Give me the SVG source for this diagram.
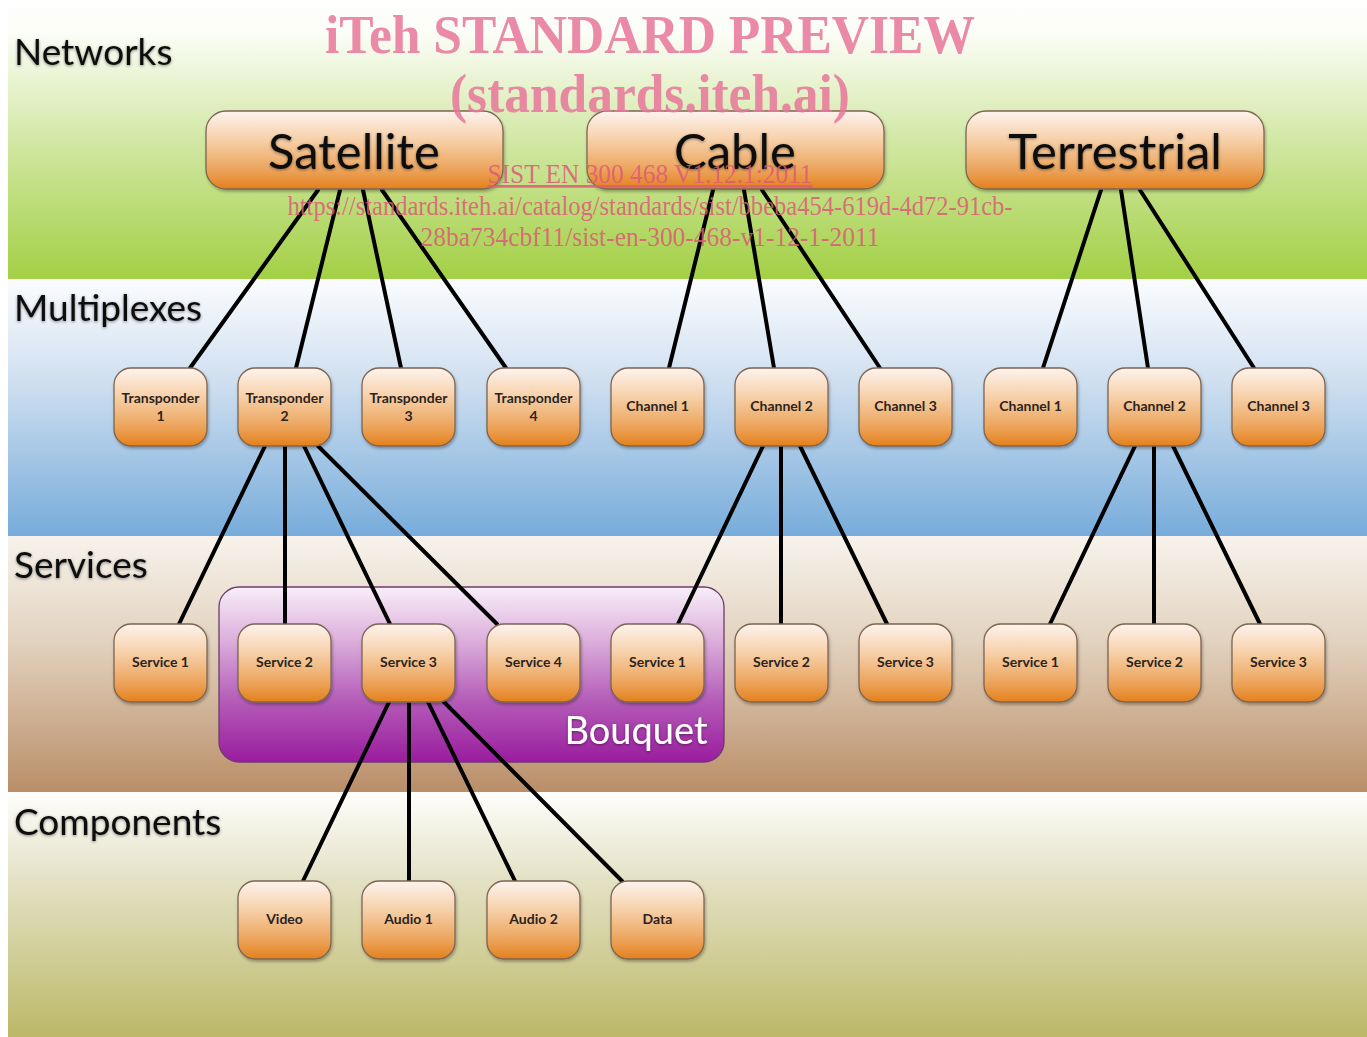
<svg xmlns="http://www.w3.org/2000/svg" width="1367" height="1037" viewBox="0 0 1367 1037">
<defs>
<linearGradient id="gNet" x1="0" y1="0" x2="0" y2="1">
<stop offset="0" stop-color="#ffffff"/><stop offset="0.12" stop-color="#fbfdf6"/><stop offset="0.55" stop-color="#cde59b"/><stop offset="1" stop-color="#a3d045"/>
</linearGradient>
<linearGradient id="gMux" x1="0" y1="0" x2="0" y2="1">
<stop offset="0" stop-color="#fbfcfe"/><stop offset="0.4" stop-color="#cfdff0"/><stop offset="1" stop-color="#77acdb"/>
</linearGradient>
<linearGradient id="gSvc" x1="0" y1="0" x2="0" y2="1">
<stop offset="0" stop-color="#f7f3ec"/><stop offset="0.4" stop-color="#e3d3c0"/><stop offset="1" stop-color="#b98e68"/>
</linearGradient>
<linearGradient id="gCmp" x1="0" y1="0" x2="0" y2="1">
<stop offset="0" stop-color="#fefefc"/><stop offset="0.35" stop-color="#e4e2c6"/><stop offset="1" stop-color="#bcb867"/>
</linearGradient>
<linearGradient id="gNode" x1="0" y1="0" x2="0" y2="1">
<stop offset="0" stop-color="#fdf3ee"/><stop offset="0.35" stop-color="#f7d2ac"/><stop offset="0.75" stop-color="#eca45c"/><stop offset="1" stop-color="#e4801c"/>
</linearGradient>
<linearGradient id="gBq" x1="0" y1="0" x2="0" y2="1">
<stop offset="0" stop-color="#f8eef8"/><stop offset="0.3" stop-color="#dcb0dc"/><stop offset="0.65" stop-color="#b45cb8"/><stop offset="1" stop-color="#9a1c9e"/>
</linearGradient>
<filter id="tglow" x="-10%" y="-30%" width="120%" height="160%">
<feDropShadow dx="0" dy="1" stdDeviation="1.6" flood-color="#000" flood-opacity="0.45"/>
</filter>
<filter id="nshadow" x="-10%" y="-10%" width="125%" height="130%">
<feDropShadow dx="1" dy="2" stdDeviation="1.5" flood-color="#000" flood-opacity="0.3"/>
</filter>
</defs>
<style>
.band-label{font-family:Lato,"Open Sans",sans-serif;font-size:37px;fill:#111;}
.big{font-family:Lato,"Open Sans",sans-serif;font-size:49px;fill:#111;text-anchor:middle;}
.sm{font-family:Lato,"Open Sans",sans-serif;font-size:14px;font-weight:bold;fill:#2a2420;text-anchor:middle;}
.node{fill:url(#gNode);stroke:#7d6552;stroke-width:1.3;}
.conn line{stroke:#000;stroke-width:4;stroke-linecap:round;}
.wm1{font-family:"Liberation Serif",serif;font-weight:bold;font-size:54px;fill:#e8769a;fill-opacity:0.85;text-anchor:middle;}
.wm2{font-family:"Liberation Serif",serif;font-size:27px;fill:#dd5a78;fill-opacity:0.85;text-anchor:middle;}
</style>
<rect x="0" y="0" width="1367" height="1037" fill="#ffffff"/>
<rect x="8" y="0" width="1359" height="279" fill="url(#gNet)"/>
<rect x="8" y="279" width="1359" height="257" fill="url(#gMux)"/>
<rect x="8" y="536" width="1359" height="256" fill="url(#gSvc)"/>
<rect x="8" y="792" width="1359" height="245" fill="url(#gCmp)"/>
<g id="band-labels" filter="url(#tglow)">
<text class="band-label" x="14" y="65">Networks</text>
<text class="band-label" x="14" y="321">Multiplexes</text>
<text class="band-label" x="14" y="578">Services</text>
<text class="band-label" x="14" y="835">Components</text>
</g>
<g id="bouquet">
<rect x="219" y="587" width="505" height="175" rx="20" fill="url(#gBq)" stroke="#6d3a6d" stroke-width="1.3"/>
<text x="636" y="744" font-family="Lato,'Open Sans',sans-serif" font-size="38" fill="#ffffff" text-anchor="middle" filter="url(#tglow)">Bouquet</text>
</g>
<g id="connectors" class="conn">
<line x1="318" y1="190" x2="190" y2="368"/>
<line x1="340" y1="190" x2="296" y2="368"/>
<line x1="363" y1="190" x2="401" y2="368"/>
<line x1="382" y1="190" x2="506" y2="368"/>
<line x1="713" y1="190" x2="669" y2="368"/>
<line x1="744" y1="190" x2="774" y2="368"/>
<line x1="762" y1="190" x2="880" y2="368"/>
<line x1="1101" y1="190" x2="1043" y2="368"/>
<line x1="1121" y1="190" x2="1148" y2="368"/>
<line x1="1140" y1="190" x2="1254" y2="368"/>
<line x1="265" y1="446" x2="179" y2="624"/>
<line x1="285" y1="446" x2="285" y2="624"/>
<line x1="304" y1="446" x2="390" y2="624"/>
<line x1="318" y1="446" x2="497" y2="624"/>
<line x1="763" y1="446" x2="678" y2="624"/>
<line x1="781" y1="446" x2="781" y2="624"/>
<line x1="800" y1="446" x2="887" y2="624"/>
<line x1="1135" y1="446" x2="1050" y2="624"/>
<line x1="1154" y1="446" x2="1154" y2="624"/>
<line x1="1173" y1="446" x2="1260" y2="624"/>
<line x1="389" y1="702" x2="303" y2="881"/>
<line x1="409" y1="702" x2="409" y2="881"/>
<line x1="428" y1="702" x2="515" y2="881"/>
<line x1="444" y1="702" x2="622" y2="881"/>
</g>
<g id="n-satellite"><rect class="node" x="206" y="111" width="297" height="78" rx="20" filter="url(#nshadow)"/><text class="big" x="354" y="169" filter="url(#tglow)">Satellite</text></g>
<g id="n-cable"><rect class="node" x="587" y="111" width="297" height="78" rx="20" filter="url(#nshadow)"/><text class="big" x="735" y="169" filter="url(#tglow)">Cable</text></g>
<g id="n-terrestrial"><rect class="node" x="966" y="111" width="298" height="78" rx="20" filter="url(#nshadow)"/><text class="big" x="1115" y="169" filter="url(#tglow)">Terrestrial</text></g>
<g id="n-tp1"><rect class="node" x="114" y="368" width="93" height="78" rx="17" filter="url(#nshadow)"/><text class="sm" x="160.5" y="403">Transponder</text><text class="sm" x="160.5" y="421">1</text></g>
<g id="n-tp2"><rect class="node" x="238" y="368" width="93" height="78" rx="17" filter="url(#nshadow)"/><text class="sm" x="284.5" y="403">Transponder</text><text class="sm" x="284.5" y="421">2</text></g>
<g id="n-tp3"><rect class="node" x="362" y="368" width="93" height="78" rx="17" filter="url(#nshadow)"/><text class="sm" x="408.5" y="403">Transponder</text><text class="sm" x="408.5" y="421">3</text></g>
<g id="n-tp4"><rect class="node" x="487" y="368" width="93" height="78" rx="17" filter="url(#nshadow)"/><text class="sm" x="533.5" y="403">Transponder</text><text class="sm" x="533.5" y="421">4</text></g>
<g id="n-cch1"><rect class="node" x="611" y="368" width="93" height="78" rx="17" filter="url(#nshadow)"/><text class="sm" x="657.5" y="411">Channel 1</text></g>
<g id="n-cch2"><rect class="node" x="735" y="368" width="93" height="78" rx="17" filter="url(#nshadow)"/><text class="sm" x="781.5" y="411">Channel 2</text></g>
<g id="n-cch3"><rect class="node" x="859" y="368" width="93" height="78" rx="17" filter="url(#nshadow)"/><text class="sm" x="905.5" y="411">Channel 3</text></g>
<g id="n-tch1"><rect class="node" x="984" y="368" width="93" height="78" rx="17" filter="url(#nshadow)"/><text class="sm" x="1030.5" y="411">Channel 1</text></g>
<g id="n-tch2"><rect class="node" x="1108" y="368" width="93" height="78" rx="17" filter="url(#nshadow)"/><text class="sm" x="1154.5" y="411">Channel 2</text></g>
<g id="n-tch3"><rect class="node" x="1232" y="368" width="93" height="78" rx="17" filter="url(#nshadow)"/><text class="sm" x="1278.5" y="411">Channel 3</text></g>
<g id="n-ss1"><rect class="node" x="114" y="624" width="93" height="78" rx="17" filter="url(#nshadow)"/><text class="sm" x="160.5" y="667">Service 1</text></g>
<g id="n-ss2"><rect class="node" x="238" y="624" width="93" height="78" rx="17" filter="url(#nshadow)"/><text class="sm" x="284.5" y="667">Service 2</text></g>
<g id="n-ss3"><rect class="node" x="362" y="624" width="93" height="78" rx="17" filter="url(#nshadow)"/><text class="sm" x="408.5" y="667">Service 3</text></g>
<g id="n-ss4"><rect class="node" x="487" y="624" width="93" height="78" rx="17" filter="url(#nshadow)"/><text class="sm" x="533.5" y="667">Service 4</text></g>
<g id="n-cs1"><rect class="node" x="611" y="624" width="93" height="78" rx="17" filter="url(#nshadow)"/><text class="sm" x="657.5" y="667">Service 1</text></g>
<g id="n-cs2"><rect class="node" x="735" y="624" width="93" height="78" rx="17" filter="url(#nshadow)"/><text class="sm" x="781.5" y="667">Service 2</text></g>
<g id="n-cs3"><rect class="node" x="859" y="624" width="93" height="78" rx="17" filter="url(#nshadow)"/><text class="sm" x="905.5" y="667">Service 3</text></g>
<g id="n-ts1"><rect class="node" x="984" y="624" width="93" height="78" rx="17" filter="url(#nshadow)"/><text class="sm" x="1030.5" y="667">Service 1</text></g>
<g id="n-ts2"><rect class="node" x="1108" y="624" width="93" height="78" rx="17" filter="url(#nshadow)"/><text class="sm" x="1154.5" y="667">Service 2</text></g>
<g id="n-ts3"><rect class="node" x="1232" y="624" width="93" height="78" rx="17" filter="url(#nshadow)"/><text class="sm" x="1278.5" y="667">Service 3</text></g>
<g id="n-video"><rect class="node" x="238" y="881" width="93" height="78" rx="17" filter="url(#nshadow)"/><text class="sm" x="284.5" y="924">Video</text></g>
<g id="n-audio1"><rect class="node" x="362" y="881" width="93" height="78" rx="17" filter="url(#nshadow)"/><text class="sm" x="408.5" y="924">Audio 1</text></g>
<g id="n-audio2"><rect class="node" x="487" y="881" width="93" height="78" rx="17" filter="url(#nshadow)"/><text class="sm" x="533.5" y="924">Audio 2</text></g>
<g id="n-data"><rect class="node" x="611" y="881" width="93" height="78" rx="17" filter="url(#nshadow)"/><text class="sm" x="657.5" y="924">Data</text></g>
<g id="watermark">
<text class="wm1" x="650" y="53" textLength="650" lengthAdjust="spacingAndGlyphs">iTeh STANDARD PREVIEW</text>
<text class="wm1" x="650" y="112" textLength="400" lengthAdjust="spacingAndGlyphs">(standards.iteh.ai)</text>
<text class="wm2" x="650" y="183" text-decoration="underline" textLength="325" lengthAdjust="spacingAndGlyphs">SIST EN 300 468 V1.12.1:2011</text>
<text class="wm2" x="650" y="215" textLength="725" lengthAdjust="spacingAndGlyphs">https://standards.iteh.ai/catalog/standards/sist/bbeba454-619d-4d72-91cb-</text>
<text class="wm2" x="650" y="246" textLength="459" lengthAdjust="spacingAndGlyphs">28ba734cbf11/sist-en-300-468-v1-12-1-2011</text>
</g>
</svg>
